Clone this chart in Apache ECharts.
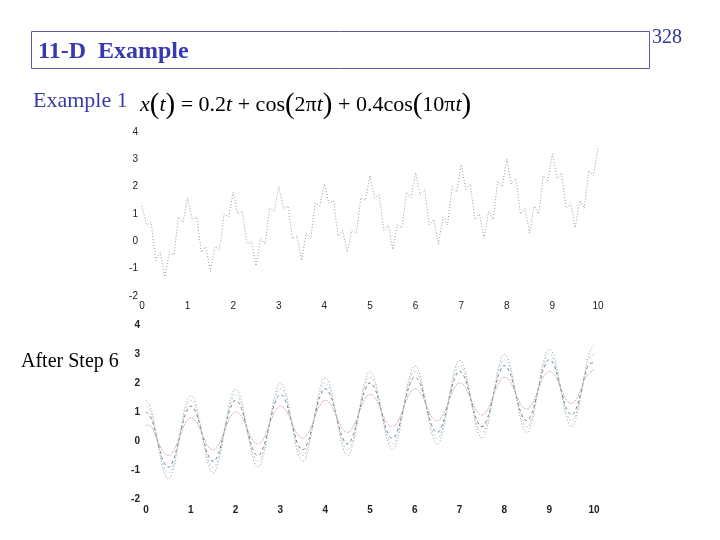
<!DOCTYPE html>
<html>
<head>
<meta charset="utf-8">
<script src="https://cdn.jsdelivr.net/npm/echarts@6/dist/echarts.min.js"></script>
<style>html,body{margin:0;padding:0;background:#fff;}#c{width:720px;height:540px;}</style>
</head>
<body>
<div id="c"></div>
<script>
// sampling step of the time axis (t from 0 to 10)
const tStep = 0.1;
const xTicks = [0,1,2,3,4,5,6,7,8,9,10];
const yTicks = [-2,-1,0,1,2,3,4];

// Example 1: x(t)
const signal = [
 1.3,0.6,0.7,-0.7,-0.4,-1.3,-0.4,-0.5,0.9,0.7,
 1.6,0.8,0.9,-0.4,-0.2,-1.1,-0.2,-0.3,1.0,0.9,
 1.8,1.0,1.1,-0.1,0.0,-0.9,0.1,-0.1,1.2,1.1,
 2.0,1.2,1.3,0.1,0.2,-0.7,0.3,0.1,1.4,1.3,
 2.1,1.4,1.5,0.2,0.4,-0.4,0.4,0.3,1.6,1.5,
 2.4,1.6,1.7,0.4,0.6,-0.3,0.6,0.5,1.8,1.6,
 2.5,1.7,1.9,0.6,0.8,-0.1,0.9,0.6,2.0,1.8,
 2.8,1.9,2.1,0.8,1.0,0.1,1.1,0.8,2.2,2.0,
 3.0,2.1,2.3,1.0,1.2,0.3,1.3,1.0,2.4,2.2,
 3.2,2.3,2.5,1.2,1.4,0.5,1.5,1.2,2.6,2.4,
 3.4
];

// After Step 6: curves
const stepOuter = [
 1.40,1.15,0.47,-0.37,-1.05,-1.30,-1.01,-0.29,0.59,1.31,
 1.55,1.35,0.67,-0.17,-0.85,-1.10,-0.81,-0.09,0.79,1.51,
 1.78,1.55,0.87,0.03,-0.65,-0.90,-0.61,0.11,0.99,1.71,
 1.98,1.75,1.07,0.23,-0.45,-0.70,-0.41,0.31,1.19,1.91,
 2.18,1.95,1.27,0.43,-0.25,-0.50,-0.21,0.51,1.39,2.11,
 2.38,2.15,1.47,0.63,-0.05,-0.30,-0.01,0.71,1.59,2.31,
 2.58,2.35,1.67,0.83,0.15,-0.10,0.19,0.91,1.79,2.51,
 2.78,2.55,1.87,1.03,0.35,0.10,0.39,1.11,1.99,2.71,
 2.98,2.75,2.07,1.23,0.55,0.30,0.59,1.31,2.19,2.91,
 3.15,2.95,2.27,1.43,0.75,0.50,0.79,1.51,2.39,3.05,
 3.30
];
const stepCyan = [
 1.20,0.99,0.41,-0.31,-0.89,-1.10,-0.85,-0.23,0.53,1.15,
 1.40,1.19,0.61,-0.11,-0.69,-0.90,-0.65,-0.03,0.73,1.35,
 1.60,1.39,0.81,0.09,-0.49,-0.70,-0.45,0.17,0.93,1.55,
 1.80,1.59,1.01,0.29,-0.29,-0.50,-0.25,0.37,1.13,1.75,
 2.00,1.79,1.21,0.49,-0.09,-0.30,-0.05,0.57,1.33,1.95,
 2.20,1.99,1.41,0.69,0.11,-0.10,0.15,0.77,1.53,2.15,
 2.40,2.19,1.61,0.89,0.31,0.10,0.35,0.97,1.73,2.35,
 2.60,2.39,1.81,1.09,0.51,0.30,0.55,1.17,1.93,2.55,
 2.80,2.59,2.01,1.29,0.71,0.50,0.75,1.37,2.13,2.75,
 3.00,2.79,2.21,1.49,0.91,0.70,0.95,1.57,2.33,2.85,
 3.00
];
const stepDashed = [
 1.00,0.83,0.35,-0.25,-0.73,-0.90,-0.69,-0.17,0.47,0.99,
 1.20,1.03,0.55,-0.05,-0.53,-0.70,-0.49,0.03,0.67,1.19,
 1.40,1.23,0.75,0.15,-0.33,-0.50,-0.29,0.23,0.87,1.39,
 1.60,1.43,0.95,0.35,-0.13,-0.30,-0.09,0.43,1.07,1.59,
 1.80,1.63,1.15,0.55,0.07,-0.10,0.11,0.63,1.27,1.79,
 2.00,1.83,1.35,0.75,0.27,0.10,0.31,0.83,1.47,1.99,
 2.20,2.03,1.55,0.95,0.47,0.30,0.51,1.03,1.67,2.19,
 2.40,2.23,1.75,1.15,0.67,0.50,0.71,1.23,1.87,2.39,
 2.60,2.43,1.95,1.35,0.87,0.70,0.91,1.43,2.07,2.59,
 2.80,2.63,2.15,1.55,1.07,0.90,1.11,1.63,2.27,2.65,
 2.70
];
const stepInner = [
 0.55,0.51,0.23,-0.13,-0.41,-0.50,-0.37,-0.05,0.35,0.67,
 0.80,0.71,0.43,0.07,-0.21,-0.30,-0.17,0.15,0.55,0.87,
 1.00,0.91,0.63,0.27,-0.01,-0.10,0.03,0.35,0.75,1.07,
 1.20,1.11,0.83,0.47,0.19,0.10,0.23,0.55,0.95,1.27,
 1.40,1.31,1.03,0.67,0.39,0.30,0.43,0.75,1.15,1.47,
 1.60,1.51,1.23,0.87,0.59,0.50,0.63,0.95,1.35,1.67,
 1.80,1.71,1.43,1.07,0.79,0.70,0.83,1.15,1.55,1.87,
 2.00,1.91,1.63,1.27,0.99,0.90,1.03,1.35,1.75,2.07,
 2.20,2.11,1.83,1.47,1.19,1.10,1.23,1.55,1.95,2.27,
 2.40,2.31,2.03,1.67,1.39,1.30,1.43,1.75,2.15,2.35,
 2.45
];

function pairs(arr){ return arr.map((v,i)=>[+(i*tStep).toFixed(2), v]); }

const chart = echarts.init(document.getElementById('c'), null, {renderer:'canvas'});

function xAx(gi, bold, margin){
  return {gridIndex:gi, type:'value', min:xTicks[0], max:xTicks[xTicks.length-1], interval:1,
    axisLine:{show:false}, axisTick:{show:false}, splitLine:{show:false},
    axisLabel:{margin:margin, color:'#222', fontSize:10, fontFamily:'Liberation Sans, Arial', fontWeight:bold?'bold':'normal'}};
}
function yAx(gi, bold, margin){
  return {gridIndex:gi, type:'value', min:yTicks[0], max:yTicks[yTicks.length-1], interval:1,
    axisLine:{show:false}, axisTick:{show:false}, splitLine:{show:false},
    axisLabel:{margin:margin, color:'#222', fontSize:10, fontFamily:'Liberation Sans, Arial', fontWeight:bold?'bold':'normal'}};
}

const serif = 'Liberation Serif, Times New Roman, serif';

chart.setOption({
  animation:false,
  backgroundColor:'#fff',
  grid:[
    {left:142, top:132, width:456, height:164},
    {left:146, top:325, width:448, height:174}
  ],
  xAxis:[xAx(0,false,5), xAx(1,true,6)],
  yAxis:[yAx(0,false,4), yAx(1,true,6)],
  series:[
    {type:'line', xAxisIndex:0, yAxisIndex:0, data:pairs(signal), showSymbol:false,
     lineStyle:{color:'#9a9a9a', width:1, type:[1,2]}},
    {type:'line', xAxisIndex:1, yAxisIndex:1, data:pairs(stepOuter), showSymbol:false, smooth:true,
     lineStyle:{color:'#a898a4', width:1, type:[1,2]}},
    {type:'line', xAxisIndex:1, yAxisIndex:1, data:pairs(stepCyan), showSymbol:false, smooth:true,
     lineStyle:{color:'#a6d8de', width:1, type:[2,2]}},
    {type:'line', xAxisIndex:1, yAxisIndex:1, data:pairs(stepDashed), showSymbol:false, smooth:true,
     lineStyle:{color:'#7a7e8e', width:1, type:[3,3]}},
    {type:'line', xAxisIndex:1, yAxisIndex:1, data:pairs(stepInner), showSymbol:false, smooth:true,
     lineStyle:{color:'#dba8b8', width:1, type:[2,1]}}
  ],
  graphic:[
    {type:'rect', shape:{x:31.5, y:31.5, width:618, height:37}, style:{fill:'none', stroke:'#5b5ba8', lineWidth:1}},
    {type:'text', left:38, top:40, style:{text:'11-D  Example', font:'bold 24px '+serif, fill:'#3838b0'}},
    {type:'text', left:652, top:28, style:{text:'328', font:'20px '+serif, fill:'#33339a'}},
    {type:'text', left:33, top:90, style:{text:'Example 1', font:'22px '+serif, fill:'#3a3aa8'}},
    {type:'text', left:21, top:352, style:{text:'After Step 6', font:'20px '+serif, fill:'#000'}},
    {type:'text', left:140, top:91, style:{
      text:'{i|x}{p|(}{i|t}{p|)}{n| = 0.2}{i|t}{n| + cos}{p|(}{n|2π}{i|t}{p|)}{n| + 0.4cos}{p|(}{n|10π}{i|t}{p|)}',
      rich:{
        i:{font:'italic 22px '+serif, fill:'#000', verticalAlign:'middle'},
        n:{font:'22px '+serif, fill:'#000', verticalAlign:'middle'},
        p:{font:'29px '+serif, fill:'#000', verticalAlign:'middle'}
      }}}
  ]
});
</script>
</body>
</html>
